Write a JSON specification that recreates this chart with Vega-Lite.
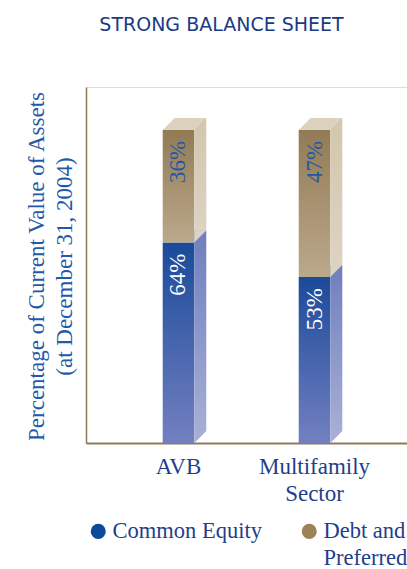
{
  "$schema": "https://vega.github.io/schema/vega-lite/v6.json",
  "width": 321,
  "height": 356,
  "autosize": "none",
  "padding": {"left": 86, "top": 87, "right": 0, "bottom": 126},
  "background": "white",
  "config": {"legend": {"labelFont": "Liberation Serif", "labelFontSize": 22.5}},
  "title": {"text": "STRONG BALANCE SHEET", "font": "DejaVu Sans", "fontSize": 19, "fontWeight": "normal", "color": "#1b3a84", "anchor": "middle", "dx": -25, "baseline": "alphabetic", "offset": 37},
  "data": {"values": [
    {"group": "AVB", "seg": "Common Equity", "pct": 64, "order": 1},
    {"group": "AVB", "seg": "Debt and Preferred", "pct": 36, "order": 2},
    {"group": "Multifamily Sector", "seg": "Common Equity", "pct": 53, "order": 1},
    {"group": "Multifamily Sector", "seg": "Debt and Preferred", "pct": 47, "order": 2}
  ]},
  "transform": [
    {"stack": "pct", "groupby": ["group"], "sort": [{"field": "order"}], "as": ["y0", "y1"]},
    {"calculate": "datum.pct + '%'", "as": "label"}
  ],
  "encoding": {
    "x": {"field": "group", "type": "nominal", "sort": ["AVB", "Multifamily Sector"],
      "scale": {"paddingInner": 0, "paddingOuter": 0.18},
      "axis": {"title": null, "domainColor": "#8e7a58", "domainWidth": 2, "ticks": false, "labelAngle": 0,
        "labelFont": "Liberation Serif", "labelFontSize": 23, "labelColor": "#1f3e8c", "labelPadding": 12,
        "labelExpr": "split(datum.label, ' ')", "labelLineHeight": 27}},
    "y": {"field": "y1", "type": "quantitative", "scale": {"domain": [0, 113.7], "nice": false},
      "axis": {"title": ["Percentage of Current Value of Assets", "(at December 31, 2004)"], "labels": false, "ticks": false, "grid": false,
        "domainColor": "#8e7a58", "domainWidth": 1.5, "titleFont": "Liberation Serif", "titleFontSize": 23, "titleFontWeight": "normal",
        "titleColor": "#2458a8", "titleLineHeight": 28, "titleX": -43, "titleY": 179, "titleAngle": 270, "titleAlign": "center", "titleBaseline": "alphabetic"}}
  },
  "layer": [
    {"transform": [{"filter": "datum.seg == 'Common Equity'"}],
     "mark": {"type": "bar", "size": 31.6, "color": {"gradient": "linear", "x1": 0, "y1": 0, "x2": 0, "y2": 1, "stops": [{"offset": 0, "color": "#1a4a9a"}, {"offset": 1, "color": "#7380c0"}]}},
     "encoding": {"y2": {"field": "y0"}}},
    {"transform": [{"filter": "datum.seg == 'Debt and Preferred'"}],
     "mark": {"type": "bar", "size": 31.6, "color": {"gradient": "linear", "x1": 0, "y1": 0, "x2": 0, "y2": 1, "stops": [{"offset": 0, "color": "#927a55"}, {"offset": 1, "color": "#bba98c"}]}},
     "encoding": {"y2": {"field": "y0"}}},
    {"transform": [{"filter": "datum.seg == 'Common Equity'"}],
     "mark": {"type": "bar", "size": 12, "xOffset": 21.8, "yOffset": -12, "y2Offset": -12, "color": {"gradient": "linear", "x1": 0, "y1": 0, "x2": 0, "y2": 1, "stops": [{"offset": 0, "color": "#6f7fbe"}, {"offset": 1, "color": "#a6aed6"}]}},
     "encoding": {"y2": {"field": "y0"}}},
    {"transform": [{"filter": "datum.seg == 'Debt and Preferred'"}],
     "mark": {"type": "bar", "size": 12, "xOffset": 21.8, "yOffset": -12, "y2Offset": -12, "color": {"gradient": "linear", "x1": 0, "y1": 0, "x2": 0, "y2": 1, "stops": [{"offset": 0, "color": "#d3c6ad"}, {"offset": 1, "color": "#ddd3c2"}]}},
     "encoding": {"y2": {"field": "y0"}}},
    {"transform": [{"filter": "datum.seg == 'Common Equity'"}],
     "mark": {"type": "point", "shape": "M 15.8 0 L 15.8 -12 L 27.8 -12 Z", "size": 4, "filled": true, "opacity": 1, "strokeWidth": 0, "color": "#a6aed6"},
     "encoding": {"y": {"field": "y0", "type": "quantitative"}}},
    {"transform": [{"filter": "datum.seg == 'Debt and Preferred'"}],
     "mark": {"type": "point", "shape": "M 15.8 0 L 15.8 -12 L 27.8 -12 Z", "size": 4, "filled": true, "opacity": 1, "strokeWidth": 0, "color": "#ddd3c2"},
     "encoding": {"y": {"field": "y0", "type": "quantitative"}}},
    {"transform": [{"filter": "datum.seg == 'Debt and Preferred'"}],
     "mark": {"type": "point", "shape": "M -15.8 0 L 15.8 0 L 27.8 -12 L -3.8 -12 Z", "size": 4, "filled": true, "opacity": 1, "strokeWidth": 0, "color": "#dcd2bf"},
     "encoding": {}},
    {"mark": {"type": "text", "angle": 270, "align": "right", "baseline": "middle", "yOffset": 11, "font": "Liberation Serif", "fontSize": 23},
     "encoding": {"text": {"field": "label"},
       "color": {"condition": {"test": "datum.seg == 'Common Equity'", "value": "white"}, "value": "#1f58a6"}}},
    {"mark": {"type": "point", "filled": true, "opacity": 0},
     "encoding": {"y": {"field": "y0", "type": "quantitative"},
       "color": {"field": "seg", "type": "nominal",
         "scale": {"domain": ["Common Equity", "Debt and Preferred"], "range": ["#0d4a9a", "#9b8258"]},
         "legend": {"orient": "none", "legendX": 1, "legendY": 433, "direction": "horizontal", "columns": 2, "title": null,
           "symbolType": "circle", "symbolSize": 227, "symbolOpacity": 1, "symbolStrokeWidth": 0,
           "labelFont": "Liberation Serif", "labelFontSize": 22.5, "labelColor": "#1f3e8c", "labelOffset": 3, "labelLimit": 300,
           "labelBaseline": "alphabetic",
           "columnPadding": 36, "padding": 0,
           "labelExpr": "datum.label == 'Debt and Preferred' ? ['Debt and', 'Preferred'] : [datum.label, '']",
           "encode": {"labels": {"update": {"lineHeight": {"value": 27}, "dy": {"value": 7}, "font": {"value": "Liberation Serif"}}}}}}}}
  ]
}
